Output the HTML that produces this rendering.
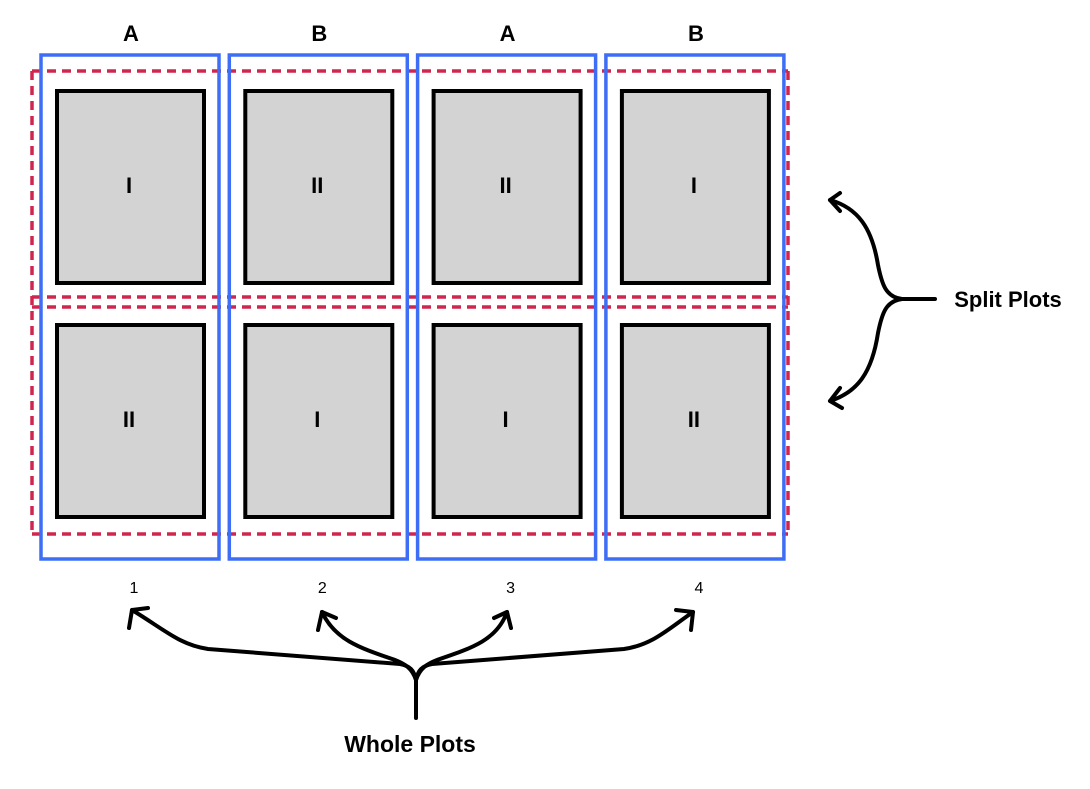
<!DOCTYPE html>
<html><head><meta charset="utf-8"><style>
body{margin:0;background:#fff;}
svg{display:block;font-family:"Liberation Sans",sans-serif;}
</style></head><body>
<svg width="1090" height="789" viewBox="0 0 1090 789">
<g id="g" fill="none"></g>
<g stroke="#000" stroke-width="4" fill="none" stroke-linecap="round" stroke-linejoin="round">
<path d="M935,299 L902,299 C886,297 882,285 878,265 C872,228 858,208 830,200"/>
<path d="M840,193 L830,200 L840,211"/>
<path d="M902,299 C886,301 882,313 878,333 C872,372 858,392 830,401"/>
<path d="M840,388 L830,401 L842,408"/>
</g>
<text x="1008" y="307" text-anchor="middle" font-size="22" font-weight="bold">Split Plots</text>
<g stroke="#000" stroke-width="4" fill="none" stroke-linecap="round" stroke-linejoin="round">
<path d="M416,718 L416,680 C414,670 410,666 400,664 L208,649 C180,645 165,630 132,610"/>
<path d="M129,628 L132,610 L148,608"/>
<path d="M416,680 C412,668 405,664 395,660 C360,648 335,640 322,612"/>
<path d="M318,630 L322,612 L336,618"/>
<path d="M416,680 C420,668 427,664 437,660 C472,648 497,640 507,612"/>
<path d="M494,618 L507,612 L511,628"/>
<path d="M416,680 C418,670 422,666 432,664 L624,649 C652,645 667,630 693,612"/>
<path d="M676,610 L693,612 L691,630"/>
</g>
<text x="410" y="752" text-anchor="middle" font-size="23" font-weight="bold">Whole Plots</text>
</svg>
<script>
const columns=["1","2","3","4"];
const treatments=["A","B","A","B"];
const topSplit=["I","II","II","I"];
const bottomSplit=["II","I","I","II"];
const NS="http://www.w3.org/2000/svg";
const g=document.getElementById('g');
function mk(tag,attrs,parent){const e=document.createElementNS(NS,tag);for(const k in attrs)e.setAttribute(k,attrs[k]);(parent||g).appendChild(e);return e;}
const colX=i=>41+i*188.3;
const red="#d0264d";
[[32,71,788,71],[32,297,788,297],[32,307,788,307],[32,534,788,534],[32,71,32,534],[788,71,788,534]].forEach(l=>{
 const e=mk('line',{x1:l[0],y1:l[1],x2:l[2],y2:l[3],stroke:red,'stroke-width':3.5,'stroke-dasharray':'9 6'});
 
 
});
columns.forEach((c,i)=>{
 const x=colX(i);
 const r=mk('rect',{x:x,y:55,width:178,height:504,stroke:'#3d6ef5','stroke-width':3.5});
 
 
 [[91,topSplit[i]],[325,bottomSplit[i]]].forEach(([y,lab],j)=>{
  const b=mk('rect',{x:x+16,y:y,width:147,height:192,fill:'#d3d3d3',stroke:'#000','stroke-width':4});
  
  
  const t=mk('text',{x:x+88,y:y+102,'text-anchor':'middle','font-size':22,'font-weight':'bold',fill:'#000'});
  t.textContent=lab;
  
  
 });
 const h=mk('text',{x:x+90,y:41,'text-anchor':'middle','font-size':22,'font-weight':'bold',fill:'#000'});
 h.textContent=treatments[i];
 
 
 const n=mk('text',{x:x+93,y:593,'text-anchor':'middle','font-size':16,fill:'#000'});
 n.textContent=c;
 
 
});
</script>
</body></html>
